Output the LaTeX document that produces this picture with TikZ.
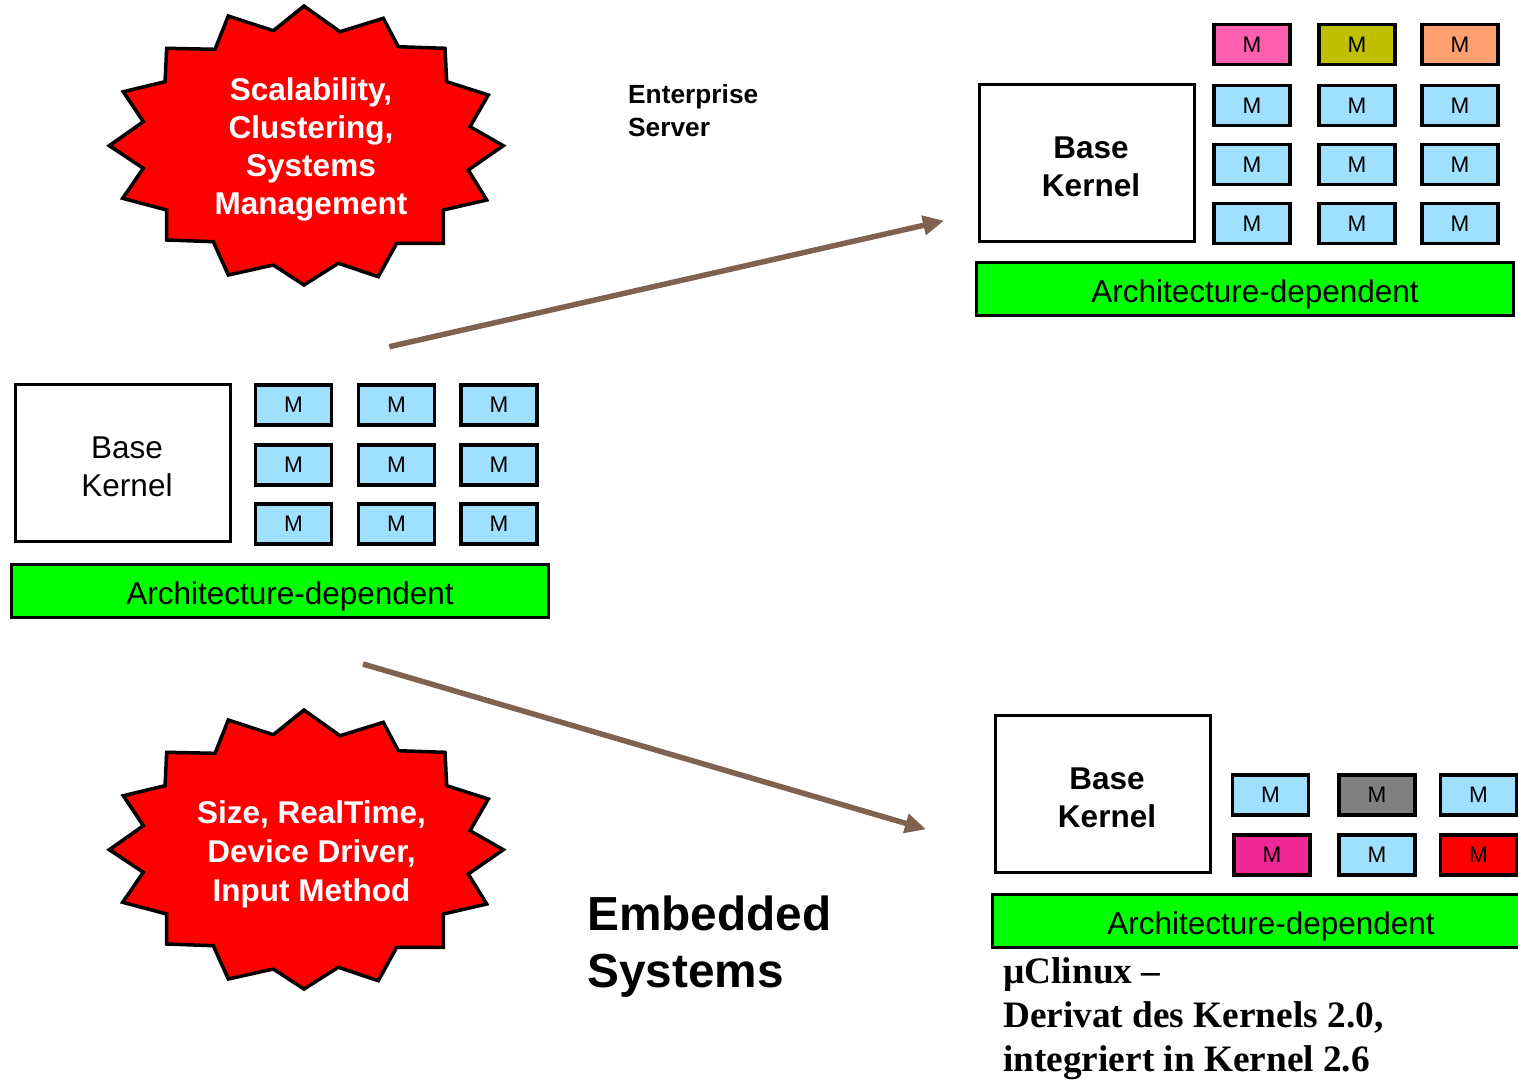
\documentclass[tikz,border=0pt]{standalone}
\usepackage{fontspec}
\setmainfont{Liberation Sans}
\newfontfamily\timesfam{Liberation Serif}
\usetikzlibrary{arrows.meta}
\definecolor{mblue}{RGB}{160,224,255}
\definecolor{mpink}{RGB}{255,95,175}
\definecolor{molive}{RGB}{192,192,0}
\definecolor{msalmon}{RGB}{255,160,112}
\definecolor{mgray}{RGB}{128,128,128}
\definecolor{mmagenta}{RGB}{240,40,150}
\definecolor{mred}{RGB}{255,0,0}
\definecolor{archgreen}{RGB}{0,255,0}
\definecolor{starred}{RGB}{255,0,0}
\definecolor{arrowbrown}{RGB}{128,98,80}
\begin{document}
\begin{tikzpicture}[x=1pt,y=-1pt,
  mbox/.style={draw=black,line width=3.5pt,fill=mblue,minimum width=76pt,minimum height=40pt,inner sep=0pt,font=\fontsize{22.5}{26}\selectfont},
  kernel/.style={draw=black,line width=3pt,fill=white,minimum width=215pt,minimum height=157pt,inner sep=0pt},
  kerneltext/.style={xshift=4pt,yshift=-4pt,inner sep=0pt,align=center,font=\fontsize{31.5}{38}\selectfont},
  kerneltextbf/.style={kerneltext,font=\fontsize{31.5}{38}\selectfont\bfseries},
  archbar/.style={draw=black,line width=3pt,fill=archgreen,minimum width=537pt,minimum height=53pt,inner sep=0pt},
  archtext/.style={xshift=10pt,yshift=-5pt,inner sep=0pt,font=\fontsize{31.5}{38}\selectfont},
  starshape/.style={draw=black,line width=3.5pt,fill=starred,line join=miter},
  startext/.style={text=white,align=center,inner sep=0pt,font=\fontsize{31.5}{38}\selectfont\bfseries},
  flow/.style={draw=arrowbrown,line width=5.5pt,-{Triangle[length=21pt,width=19pt]}}
]
\useasboundingbox (0,0) rectangle (1518,1079);
\fill[white] (0,0) rectangle (1518,1079);

% starbursts
\foreach \dy in {0,704}{
\begin{scope}[shift={(0,\dy)}]
\path[starshape] (304,6) -- (340,31.7) -- (383.3,18.3) -- (398.3,46.7) -- (445,48.3) -- (446.7,81.7)
 -- (488.3,95) -- (470,126.7) -- (503.3,145.7) -- (468.3,170) -- (486.7,200) -- (443.3,210)
 -- (443.3,243.3) -- (396.7,243.3) -- (378.3,276.7) -- (338.3,263.3) -- (304,285) -- (273.3,265)
 -- (228.3,275) -- (213.3,241.7) -- (166.7,240) -- (166.7,210) -- (122.7,198.3) -- (143.3,168.3)
 -- (109.3,145.7) -- (143.3,121.7) -- (123.3,91.7) -- (165,81.7) -- (166.7,48.3) -- (215,49.3)
 -- (228.3,16) -- (273.3,30.7) -- cycle;
\end{scope}}
\node[startext] (star1) at (311,149.5) {Scalability,\\Clustering,\\Systems\\Management};
\node[startext,font=\fontsize{31.5}{39}\selectfont\bfseries] (star2) at (311.5,854) {Size, RealTime,\\Device Driver,\\Input Method};

% labels
\node[anchor=north west,inner sep=0pt,align=left,font=\fontsize{26.3}{32.5}\selectfont\bfseries] (ent) at (628,84.5) {Enterprise\\Server};
\node[anchor=north west,inner sep=0pt,align=left,font=\fontsize{47.8}{57}\selectfont\bfseries] (emb) at (587,896) {Embedded\\Systems};
\node[anchor=north west,inner sep=0pt,align=left,font=\fontsize{37.3}{44}\selectfont\timesfam\bfseries] (uclinux) at (1003,957.5) {µClinux –\\Derivat des Kernels 2.0,\\integriert in Kernel 2.6};

% middle-left kernel
\node[kernel,label={[kerneltext]center:{Base\\Kernel}}] (mlK) at (123,463) {};
\foreach \x/\c in {293.5/1,396.5/2,499/3}{
  \foreach \y/\r in {405/1,465/2,524/3}{
    \node[mbox] (ml-m\r\c) at (\x,\y) {M};
  }}
\node[archbar,label={[archtext]center:Architecture-dependent}] (mlA) at (280,591) {};

% top-right kernel
\node[kernel,label={[kerneltextbf]center:{Base\\Kernel}}] (trK) at (1087,162.5) {};
\node[mbox,fill=mpink] (tr-m11) at (1252,44.5) {M};
\node[mbox,fill=molive] (tr-m12) at (1357,44.5) {M};
\node[mbox,fill=msalmon] (tr-m13) at (1460,44.5) {M};
\foreach \x/\c in {1252/1,1357/2,1460/3}{
  \foreach \y/\r in {105.5/2,164.5/3,223.5/4}{
    \node[mbox] (tr-m\r\c) at (\x,\y) {M};
  }}
\node[archbar,label={[archtext]center:Architecture-dependent}] (trA) at (1245,289) {};

% bottom-right kernel
\node[kernel,label={[kerneltextbf]center:{Base\\Kernel}}] (brK) at (1103,793.5) {};
\node[mbox] (br-m11) at (1270.5,795) {M};
\node[mbox,fill=mgray] (br-m12) at (1377,795) {M};
\node[mbox] (br-m13) at (1478.5,795) {M};
\node[mbox,fill=mmagenta] (br-m21) at (1272,855) {M};
\node[mbox] (br-m22) at (1377,855) {M};
\node[mbox,fill=mred] (br-m23) at (1478.5,855) {M};
\node[archbar,label={[archtext]center:Architecture-dependent}] (brA) at (1261,921) {};

% arrows
\coordinate (up0) at (389.3,346.7);
\coordinate (up1) at (944,220.7);
\coordinate (dn0) at (363,664);
\coordinate (dn1) at (926,829.3);
\draw[flow] (up0) -- (up1);
\draw[flow] (dn0) -- (dn1);
\end{tikzpicture}
\end{document}
